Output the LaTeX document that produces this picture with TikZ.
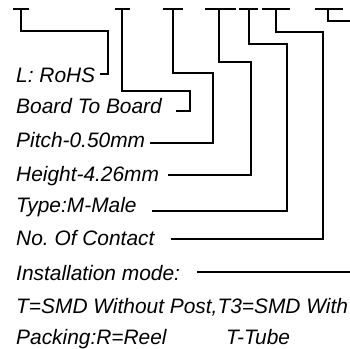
\documentclass[tikz,border=0pt]{standalone}
\usepackage{fontspec}
\setmainfont{Liberation Sans}
\frenchspacing
\begin{document}
\begin{tikzpicture}[x=1pt,y=-1pt,
  lbl/.style={anchor=base west,inner sep=0pt,font=\fontsize{20.9}{24}\selectfont\itshape},
  ln/.style={line width=1.4pt,line join=miter,line cap=butt}]
\useasboundingbox (0,0) rectangle (350,348);
% labels
\node[lbl] (rohs)  at (16,82)    {L: RoHS};
\node[lbl] (board) at (16,113.5) {Board To Board};
\node[lbl] (pitch) at (16,147)   {Pitch-0.50mm};
\node[lbl] (height) at (16,181.5) {Height-4.26mm};
\node[lbl] (type)  at (16,212)   {Type:M-Male};
\node[lbl] (noof)  at (16,245)   {No.\ Of Contact};
\node[lbl] (inst)  at (16,280.5) {Installation mode:};
\node[lbl] (tsmd)  at (16,313)   {T=SMD Without Post,T3=SMD With};
\node[lbl] (pack)  at (16,344.5) {Packing:R=Reel};
\node[lbl] (tube)  at (226,344.5) {T-Tube};
% tick bars at top
\draw[ln] (13,9) -- (29,9);
\draw[ln] (115,9) -- (130,9);
\draw[ln] (163,9) -- (183,9);
\draw[ln] (205,9) -- (236,9);
\draw[ln] (239,9) -- (258,9);
\draw[ln] (262,9) -- (290,9);
\draw[ln] (315,9) -- (343,9);
% tick roots
\coordinate (a1) at (21,9);
\coordinate (a2) at (122,9);
\coordinate (a3) at (173,9);
\coordinate (a4) at (219,9);
\coordinate (a5) at (249,9);
\coordinate (a6) at (276,9);
\coordinate (a7) at (328,9);
% line ends near labels
\coordinate (b1) at (100,74);
\coordinate (b2) at (176,111);
\coordinate (b3) at (150,143);
\coordinate (b4) at (168,175);
\coordinate (b5) at (152,211);
\coordinate (b6) at (171,239);
\coordinate (b7) at (350,21);
\coordinate (c7) at (197,272);
\coordinate (d7) at (350,272);
% connectors
\draw[ln] (a1) -- (21,31) -- (108,31) -- (108,74) -- (b1);
\draw[ln] (a2) -- (122,91) -- (190,91) -- (190,111) -- (b2);
\draw[ln] (a3) -- (173,73) -- (213,73) -- (213,143) -- (b3);
\draw[ln] (a4) -- (219,62) -- (251,62) -- (251,175) -- (b4);
\draw[ln] (a5) -- (249,44) -- (287,44) -- (287,211) -- (b5);
\draw[ln] (a6) -- (276,32) -- (323,32) -- (323,239) -- (b6);
\draw[ln] (a7) -- (328,21) -- (b7);
\draw[ln] (c7) -- (d7);
\end{tikzpicture}
\end{document}
